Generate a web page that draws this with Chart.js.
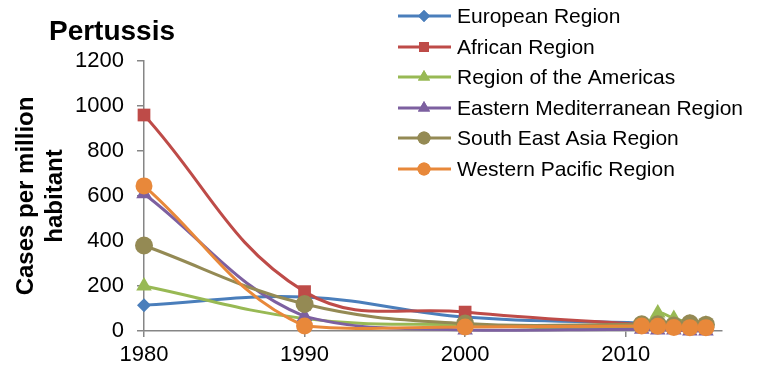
<!DOCTYPE html>
<html>
<head>
<meta charset="utf-8">
<script src="https://cdn.jsdelivr.net/npm/chart.js@4.4.1/dist/chart.umd.min.js"></script>
<style>
  html, body { margin: 0; padding: 0; background: #fff; }
  #wrap { width: 757px; height: 372px; position: relative; }
</style>
</head>
<body>
<div id="wrap"><canvas id="Chart1"></canvas></div>
<script>
// 資料
var years = [1980, 1990, 2000, 2011, 2012, 2013, 2014, 2015];
var xTicks = [1980, 1990, 2000, 2010];
var yTicks = [0, 200, 400, 600, 800, 1000, 1200];

var regionNames = ['European Region', 'African Region', 'Region of the Americas',
  'Eastern Mediterranean Region', 'South East Asia Region', 'Western Pacific Region'];

var european = [115, 151, 62, 35, 32, 30, 34, 30];
var african = [960, 175, 84, 28, 25, 20, 24, 20];
var americas = [200, 55, 27, 20, 80, 56, 36, 30];
var easternMed = [610, 65, 4, 8, 5, 4, 0, 0];
var seAsia = [380, 120, 33, 30, 30, 25, 34, 28];
var westernPac = [645, 22, 18, 22, 21, 16, 15, 15];

var colors = ['#4A7EBB', '#BE4B48', '#98B954', '#7D60A0', '#948A54', '#E8883A'];
var markers = ['rectRot', 'rect', 'triangle', 'triangle', 'circle', 'circle'];
var markerSize = [7, 9, 9, 9, 9, 8.5];

var series = [european, african, americas, easternMed, seAsia, westernPac];

var FONT = '"Liberation Sans", Arial, sans-serif';

var datasets = series.map(function (vals, i) {
  return {
    label: regionNames[i],
    data: vals.map(function (v, j) { return { x: years[j], y: v }; }),
    borderColor: colors[i],
    backgroundColor: colors[i],
    borderWidth: 3,
    tension: 0.4,
    pointStyle: markers[i],
    pointRadius: markerSize[i],
    pointBorderWidth: 0,
    pointHoverRadius: markerSize[i],
    clip: false,
    order: 5 - i
  };
});

// 標題 + 圖例
var decor = {
  id: 'decor',
  afterDraw: function (chart) {
    var c = chart.ctx;
    c.save();
    c.fillStyle = '#000';
    c.font = 'bold 28px ' + FONT;
    c.textAlign = 'center';
    c.textBaseline = 'alphabetic';
    c.fillText('Pertussis', 112, 40);

    var rows = [16, 47, 77, 108, 138, 169];
    var mk = [6, 7, 7, 7, 6.5, 6.5];
    c.font = '21px ' + FONT;
    c.textAlign = 'left';
    c.textBaseline = 'middle';
    for (var i = 0; i < regionNames.length; i++) {
      var y = rows[i];
      c.strokeStyle = colors[i];
      c.lineWidth = 3;
      c.beginPath();
      c.moveTo(398, y);
      c.lineTo(451, y);
      c.stroke();
      c.fillStyle = colors[i];
      Chart.helpers.drawPoint(c, { pointStyle: markers[i], radius: mk[i], rotation: 0, borderWidth: 0 }, 424, y);
      c.fill();
      c.fillStyle = '#000';
      c.fillText(regionNames[i], 457, y + 1);
    }
    c.restore();
  }
};

var ctx = document.getElementById('Chart1');
var chart = new Chart(ctx, {
  type: 'line',
  data: { datasets: datasets },
  options: {
    responsive: true,
    maintainAspectRatio: false,
    animation: false,
    layout: { padding: { top: 61, right: 35, left: 0, bottom: 0 } },
    plugins: {
      legend: { display: false },
      title: { display: false },
      tooltip: { enabled: false }
    },
    scales: {
      x: {
        type: 'linear',
        min: 1980,
        max: 2016,
        afterBuildTicks: function (scale) {
          scale.ticks = xTicks.map(function (v) { return { value: v }; });
        },
        afterFit: function (scale) { scale.height = 41; },
        grid: { drawOnChartArea: false, drawTicks: true, tickLength: 6, color: '#868686', lineWidth: 1.5 },
        border: { color: '#868686', width: 1.5 },
        ticks: {
          font: { family: FONT, size: 22 },
          color: '#000',
          padding: 5,
          maxRotation: 0,
          autoSkip: false,
          callback: function (v) { return String(v); }
        }
      },
      y: {
        min: 0,
        max: 1200,
        afterBuildTicks: function (scale) {
          scale.ticks = yTicks.map(function (v) { return { value: v }; });
        },
        afterFit: function (scale) { scale.width = 144; },
        grid: { drawOnChartArea: false, drawTicks: true, tickLength: 7, color: '#868686', lineWidth: 1.5 },
        border: { color: '#868686', width: 1.5 },
        ticks: {
          font: { family: FONT, size: 22 },
          color: '#000',
          padding: 13,
          callback: function (v) { return String(v); }
        },
        title: {
          display: true,
          text: ['Cases per million', 'habitant'],
          font: { family: FONT, size: 24, weight: 'bold', lineHeight: 1.2 },
          color: '#000',
          padding: { top: 12, bottom: 0 }
        }
      }
    }
  },
  plugins: [decor]
});
</script>
</body>
</html>
